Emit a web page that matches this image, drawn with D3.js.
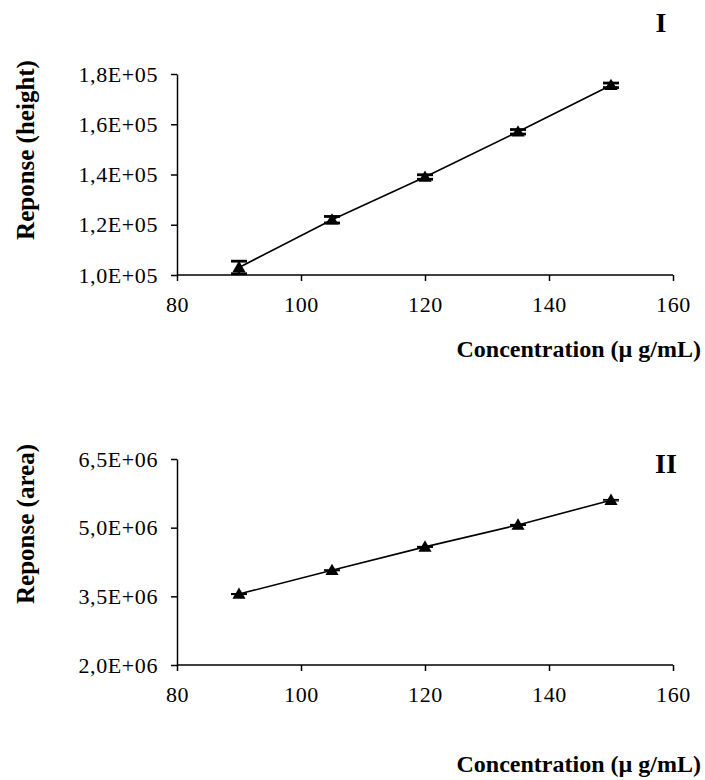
<!DOCTYPE html>
<html>
<head>
<meta charset="utf-8">
<script src="https://cdn.jsdelivr.net/npm/d3@7"></script>
<style>
  body { margin: 0; background: #fff; }
  svg { font-family: "Liberation Serif", "Times New Roman", serif; }
  .tick text { font-family: "Liberation Serif", "Times New Roman", serif; font-size: 22px; letter-spacing: 0.6px; fill: #000; }
  .axis-title { font-size: 24px; font-weight: bold; }
  .y-title { font-size: 25px; font-weight: bold; }
  .panel-label { font-size: 28px; font-weight: bold; }
</style>
</head>
<body>
<div id="chart"></div>
<script>
/* DATA */
const concentrations = [90, 105, 120, 135, 150];
const xTicks = [80, 100, 120, 140, 160];

// panel I : peak height
const heightValues = [1.03e5, 1.22e5, 1.39e5, 1.57e5, 1.755e5];
const heightErrors = [2.5e3, 1.3e3, 0.9e3, 0.9e3, 0.9e3];
const heightTicks = [1.0e5, 1.2e5, 1.4e5, 1.6e5, 1.8e5];

// panel II : peak area
const areaValues = [3.55e6, 4.07e6, 4.58e6, 5.06e6, 5.60e6];
const areaErrors = [0.01e6, 0.01e6, 0.01e6, 0.01e6, 0.015e6];
const areaTicks = [2.0e6, 3.5e6, 5.0e6, 6.5e6];

/* CONSTANTS */
const width = 705, height = 780;

const svg = d3.select("#chart")
  .append("svg")
  .attr("width", width)
  .attr("height", height);

function sciComma(exp) {
  return d => (d / Math.pow(10, exp)).toFixed(1).replace(".", ",") + "E+0" + exp;
}

function drawPanel(opts) {
  const g = svg.append("g");

  const xScale = d3.scaleLinear()
    .domain([80, 160])
    .range([177, 673]);

  const yScale = d3.scaleLinear()
    .domain(opts.yDomain)
    .range([opts.bottom, opts.top]);

  // axes
  const xAxis = d3.axisBottom(xScale)
    .tickValues(xTicks)
    .tickSize(6)
    .tickPadding(15)
    .tickSizeOuter(0);
  const yAxis = d3.axisLeft(yScale)
    .tickValues(opts.yTicks)
    .tickFormat(opts.fmt)
    .tickSize(6)
    .tickPadding(13)
    .tickSizeOuter(0);

  const gx = g.append("g")
    .attr("transform", `translate(0,${opts.bottom})`)
    .call(xAxis);
  const gy = g.append("g")
    .attr("transform", `translate(177,0)`)
    .call(yAxis);
  [gx, gy].forEach(a => {
    a.attr("font-family", null).attr("font-size", null);
    a.selectAll("path, line").attr("stroke", "#000").attr("stroke-width", 1.5);
    a.selectAll("text").attr("fill", "#000");
  });
  gx.select(".domain").attr("d", `M177,0H673`);

  // axis titles
  g.append("text")
    .attr("class", "axis-title")
    .attr("text-anchor", "end")
    .attr("x", 701)
    .attr("y", opts.xTitleY)
    .text("Concentration (\u00B5 g/mL)");

  g.append("text")
    .attr("class", "y-title")
    .attr("text-anchor", "middle")
    .attr("transform", `translate(34,${opts.yTitleMid}) rotate(-90)`)
    .text(opts.yTitle);

  g.append("text")
    .attr("class", "panel-label")
    .attr("text-anchor", "middle")
    .attr("x", opts.labelX)
    .attr("y", opts.labelY)
    .text(opts.label);

  const pts = concentrations.map((c, i) => ({ x: c, y: opts.values[i], e: opts.errors[i] }));

  // connecting line
  const line = d3.line()
    .x(d => xScale(d.x))
    .y(d => yScale(d.y));
  g.append("path")
    .datum(pts)
    .attr("d", line)
    .attr("fill", "none")
    .attr("stroke", "#000")
    .attr("stroke-width", 1.6);

  // error bars
  const eb = g.selectAll("g.err")
    .data(pts)
    .join("g")
    .attr("class", "err");
  eb.append("line")
    .attr("x1", d => xScale(d.x)).attr("x2", d => xScale(d.x))
    .attr("y1", d => yScale(d.y - d.e)).attr("y2", d => yScale(d.y + d.e))
    .attr("stroke", "#000").attr("stroke-width", 2);
  [-1, 1].forEach(s => {
    eb.append("line")
      .attr("x1", d => xScale(d.x) - 8).attr("x2", d => xScale(d.x) + 8)
      .attr("y1", d => yScale(d.y + s * d.e)).attr("y2", d => yScale(d.y + s * d.e))
      .attr("stroke", "#000").attr("stroke-width", opts.capWidth);
  });

  // triangle markers
  g.selectAll("path.marker")
    .data(pts)
    .join("path")
    .attr("class", "marker")
    .attr("d", d3.symbol().type(d3.symbolTriangle).size(75))
    .attr("transform", d => `translate(${xScale(d.x)},${yScale(d.y) + 1})`)
    .attr("fill", "#000");
}

drawPanel({
  top: 74, bottom: 275,
  yDomain: [1.0e5, 1.8e5],
  yTicks: heightTicks,
  fmt: sciComma(5),
  values: heightValues,
  errors: heightErrors,
  capWidth: 2.8,
  yTitle: "Reponse (height)",
  yTitleMid: 150,
  xTitleY: 357,
  label: "I", labelX: 661, labelY: 32
});

drawPanel({
  top: 459, bottom: 665,
  yDomain: [2.0e6, 6.5e6],
  yTicks: areaTicks,
  fmt: sciComma(6),
  values: areaValues,
  errors: areaErrors,
  capWidth: 1.2,
  yTitle: "Reponse (area)",
  yTitleMid: 524,
  xTitleY: 772,
  label: "II", labelX: 666, labelY: 473
});
</script>
</body>
</html>
